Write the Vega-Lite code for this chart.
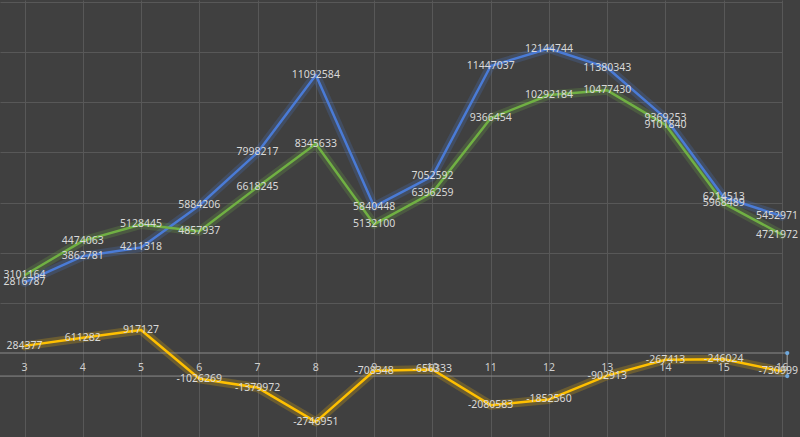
{
  "$schema": "https://vega.github.io/schema/vega-lite/v6.json",
  "width": 782,
  "height": 437,
  "autosize": "none",
  "padding": {"left": 0, "top": 0, "right": 18, "bottom": 0},
  "background": "#404040",
  "config": {"view": {"stroke": null, "fill": "#404040"}},
  "datasets": {
    "series": [
      {"x": 3, "s": "blue", "v": 2816787}, {"x": 4, "s": "blue", "v": 3862781}, {"x": 5, "s": "blue", "v": 4211318},
      {"x": 6, "s": "blue", "v": 5884206}, {"x": 7, "s": "blue", "v": 7998217}, {"x": 8, "s": "blue", "v": 11092584},
      {"x": 9, "s": "blue", "v": 5840448}, {"x": 10, "s": "blue", "v": 7052592}, {"x": 11, "s": "blue", "v": 11447037},
      {"x": 12, "s": "blue", "v": 12144744}, {"x": 13, "s": "blue", "v": 11380343}, {"x": 14, "s": "blue", "v": 9369253},
      {"x": 15, "s": "blue", "v": 6214513}, {"x": 16, "s": "blue", "v": 5452971},
      {"x": 3, "s": "green", "v": 3101164}, {"x": 4, "s": "green", "v": 4474063}, {"x": 5, "s": "green", "v": 5128445},
      {"x": 6, "s": "green", "v": 4857937}, {"x": 7, "s": "green", "v": 6618245}, {"x": 8, "s": "green", "v": 8345633},
      {"x": 9, "s": "green", "v": 5132100}, {"x": 10, "s": "green", "v": 6396259}, {"x": 11, "s": "green", "v": 9366454},
      {"x": 12, "s": "green", "v": 10292184}, {"x": 13, "s": "green", "v": 10477430}, {"x": 14, "s": "green", "v": 9101840},
      {"x": 15, "s": "green", "v": 5968489}, {"x": 16, "s": "green", "v": 4721972},
      {"x": 3, "s": "yellow", "v": 284377}, {"x": 4, "s": "yellow", "v": 611282}, {"x": 5, "s": "yellow", "v": 917127},
      {"x": 6, "s": "yellow", "v": -1026269}, {"x": 7, "s": "yellow", "v": -1379972}, {"x": 8, "s": "yellow", "v": -2746951},
      {"x": 9, "s": "yellow", "v": -708348}, {"x": 10, "s": "yellow", "v": -656333}, {"x": 11, "s": "yellow", "v": -2080583},
      {"x": 12, "s": "yellow", "v": -1852560}, {"x": 13, "s": "yellow", "v": -902913}, {"x": 14, "s": "yellow", "v": -267413},
      {"x": 15, "s": "yellow", "v": -246024}, {"x": 16, "s": "yellow", "v": -730999}
    ],
    "box": [{"yv": 0}, {"yv": -920000}]
  },
  "data": {"name": "series"},
  "layer": [
    {
      "mark": {"type": "line", "strokeWidth": 9, "opacity": 0.22, "strokeCap": "round", "strokeJoin": "round"},
      "encoding": {
        "x": {
          "field": "x", "type": "quantitative",
          "scale": {"domain": [2.579, 16], "nice": false, "zero": false},
          "axis": {"values": [3, 4, 5, 6, 7, 8, 9, 10, 11, 12, 13, 14, 15, 16], "labels": false, "ticks": false, "domain": false, "grid": true, "gridColor": "#585858", "title": null}
        },
        "y": {
          "field": "v", "type": "quantitative",
          "scale": {"domain": [-3350000, 14080000], "nice": false, "zero": false},
          "axis": {"values": [2000000, 4000000, 6000000, 8000000, 10000000, 12000000, 14000000], "labels": false, "ticks": false, "domain": false, "grid": true, "gridColor": "#585858", "title": null}
        },
        "color": {"field": "s", "type": "nominal", "scale": {"domain": ["green", "blue", "yellow"], "range": ["#70b043", "#4a7bd6", "#ffc000"]}, "legend": null}
      }
    },
    {
      "data": {"name": "box"},
      "mark": {"type": "rule", "color": "#8a8a8a", "strokeWidth": 1},
      "encoding": {
        "x": {"datum": 2.3, "type": "quantitative"},
        "x2": {"datum": 16.09},
        "y": {"field": "yv", "type": "quantitative"}
      }
    },
    {
      "data": {"name": "box"},
      "mark": {"type": "rule", "color": "#8a8a8a", "strokeWidth": 1},
      "encoding": {
        "x": {"datum": 16.09, "type": "quantitative"},
        "y": {"datum": 0, "type": "quantitative"},
        "y2": {"datum": -920000}
      }
    },
    {
      "data": {"name": "box"},
      "mark": {"type": "point", "filled": true, "size": 18, "color": "#6fa8dc", "opacity": 1},
      "encoding": {
        "x": {"datum": 16.09, "type": "quantitative"},
        "y": {"field": "yv", "type": "quantitative"}
      }
    },
    {
      "mark": {"type": "line", "strokeWidth": 2.5, "strokeJoin": "round"},
      "encoding": {
        "x": {"field": "x", "type": "quantitative"},
        "y": {"field": "v", "type": "quantitative"},
        "color": {"field": "s", "type": "nominal", "legend": null}
      }
    },
    {
      "transform": [{"filter": "datum.x < 16"}],
      "mark": {"type": "text", "font": "Noto Sans", "fontSize": 10.5, "color": "#d9d9d9", "align": "center", "baseline": "middle"},
      "encoding": {
        "x": {"field": "x", "type": "quantitative"},
        "y": {"field": "v", "type": "quantitative"},
        "text": {"field": "v", "type": "nominal"}
      }
    },
    {
      "transform": [{"filter": "datum.x === 16"}],
      "mark": {"type": "text", "font": "Noto Sans", "fontSize": 10.5, "color": "#d9d9d9", "align": "right", "baseline": "middle", "dx": 16},
      "encoding": {
        "x": {"field": "x", "type": "quantitative"},
        "y": {"field": "v", "type": "quantitative"},
        "text": {"field": "v", "type": "nominal"}
      }
    },
    {
      "transform": [{"filter": "datum.s === 'blue'"}],
      "mark": {"type": "text", "font": "Noto Sans", "fontSize": 10.5, "color": "#cfcfcf", "align": "center", "baseline": "middle"},
      "encoding": {
        "x": {"field": "x", "type": "quantitative"},
        "y": {"datum": -600000, "type": "quantitative"},
        "text": {"field": "x", "type": "nominal"}
      }
    }
  ]
}
